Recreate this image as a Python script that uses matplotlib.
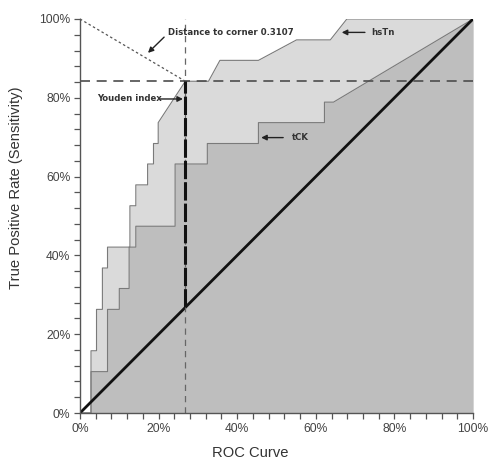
import numpy as np
import matplotlib
matplotlib.use("Agg")
import matplotlib.pyplot as plt
from matplotlib import font_manager
from matplotlib.ticker import MultipleLocator, PercentFormatter

# ROC points (false positive rate, true positive rate)
hstn_fpr = [0.0, 0.028, 0.028, 0.042, 0.042, 0.057, 0.057, 0.070, 0.070, 0.127, 0.127,
            0.142, 0.142, 0.172, 0.172, 0.187, 0.187, 0.199, 0.199, 0.268, 0.327,
            0.356, 0.454, 0.551, 0.637, 0.679, 1.0]
hstn_tpr = [0.0, 0.0, 0.158, 0.158, 0.263, 0.263, 0.368, 0.368, 0.421, 0.421, 0.526,
            0.526, 0.579, 0.579, 0.632, 0.632, 0.684, 0.684, 0.737, 0.842, 0.842,
            0.895, 0.895, 0.947, 0.947, 1.0, 1.0]

tck_fpr = [0.0, 0.028, 0.028, 0.070, 0.070, 0.100, 0.100, 0.125, 0.125, 0.142, 0.142,
           0.242, 0.242, 0.324, 0.324, 0.454, 0.454, 0.622, 0.622, 0.645, 1.0]
tck_tpr = [0.0, 0.0, 0.105, 0.105, 0.263, 0.263, 0.316, 0.316, 0.421, 0.421, 0.474,
           0.474, 0.632, 0.632, 0.684, 0.684, 0.737, 0.737, 0.789, 0.789, 1.0]

# optimal cut-off for hsTn
youden_fpr = 0.268
youden_tpr = 0.842
distance = 0.3107

tick_font = "Liberation Sans"

# narrow bold font for the notes, if there is one
names = set(f.name for f in font_manager.fontManager.ttflist)
if "Liberation Sans Narrow" in names:
    note = dict(fontfamily="Liberation Sans Narrow", fontsize=8)
else:
    note = dict(fontfamily="DejaVu Sans", fontstretch="condensed", fontsize=6.8)
note.update(fontweight="bold", color="#333333", va="center")

fig = plt.figure(figsize=(4.88, 4.63), dpi=100)
ax = fig.add_axes([80 / 488, 50 / 463, 393 / 488, 394 / 463])

ax.fill_between(hstn_fpr, hstn_tpr, color="#dadada", lw=0)
ax.fill_between(tck_fpr, tck_tpr, color="#bebebe", lw=0)
ax.plot(hstn_fpr, hstn_tpr, color="#7a7a7a", lw=0.8)
ax.plot(tck_fpr, tck_tpr, color="#7a7a7a", lw=0.8)

# chance line
ax.plot([0, 1], [0, 1], color="#111111", lw=2)

# reference lines
ax.axhline(youden_tpr, color="#4d4d4d", lw=1.2, ls=(0, (6, 4)), clip_on=False)
ax.plot([youden_fpr, youden_fpr], [0, 1.0], color="#666666", lw=0.9, ls=(0, (5, 4)), clip_on=False)
ax.plot([0, youden_fpr], [1, youden_tpr], color="#555555", lw=0.9, ls=(0, (2, 2)), clip_on=False)
ax.plot([youden_fpr, youden_fpr], [youden_fpr, youden_tpr], color="#111111", lw=2.2,
        ls=(0, (6, 1)))

arrow = dict(arrowstyle="-|>", color="#222222", lw=1, mutation_scale=8, shrinkA=0, shrinkB=0)

ax.annotate("", xy=(0.173, 0.914), xytext=(0.214, 0.954), arrowprops=arrow)
ax.text(0.224, 0.967, "Distance to corner %.4f" % distance, **note)

ax.annotate("", xy=(0.262, 0.797), xytext=(0.203, 0.797), arrowprops=arrow)
ax.text(0.0425, 0.797, "Youden index", **note)

ax.annotate("", xy=(0.666, 0.966), xytext=(0.725, 0.966), arrowprops=arrow)
ax.text(0.742, 0.966, "hsTn", **note)

ax.annotate("", xy=(0.461, 0.699), xytext=(0.517, 0.699), arrowprops=arrow)
ax.text(0.539, 0.699, "tCK", **note)

ax.set_xlim(0, 1)
ax.set_ylim(0, 1)
for side in ["top", "right"]:
    ax.spines[side].set_visible(False)
for side in ["left", "bottom"]:
    ax.spines[side].set_color("#555555")
    ax.spines[side].set_linewidth(1)

ax.xaxis.set_major_locator(MultipleLocator(0.2))
ax.yaxis.set_major_locator(MultipleLocator(0.2))
ax.xaxis.set_minor_locator(MultipleLocator(0.04))
ax.yaxis.set_minor_locator(MultipleLocator(0.04))
ax.xaxis.set_major_formatter(PercentFormatter(1.0, decimals=0))
ax.yaxis.set_major_formatter(PercentFormatter(1.0, decimals=0))
ax.tick_params(which="both", direction="out", color="#555555", length=4, width=0.9)
ax.tick_params(which="major", labelsize=8.7, labelcolor="#444444", pad=3)
for lab in ax.get_xticklabels() + ax.get_yticklabels():
    lab.set_fontfamily(tick_font)

ax.set_xlabel("ROC Curve", fontfamily=tick_font, fontsize=10.6, color="#333333", va="center")
ax.set_ylabel("True Positive Rate (Sensitivity)", fontfamily=tick_font, fontsize=10.6,
              color="#333333", va="center")
ax.xaxis.set_label_coords(0.433, -0.102)
ax.yaxis.set_label_coords(-0.163, 0.572)

fig.savefig("out.png", dpi=100)
